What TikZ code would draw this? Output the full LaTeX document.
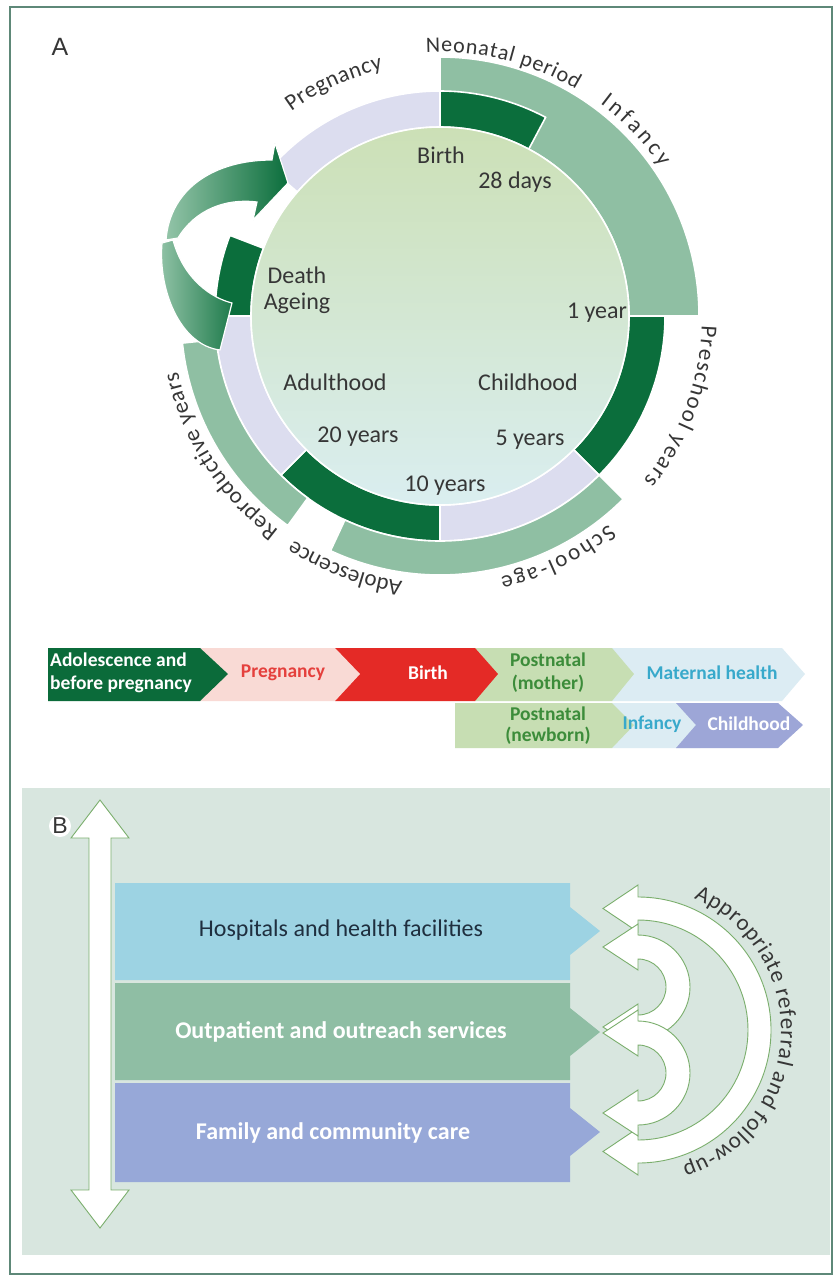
\documentclass[tikz,border=0pt]{standalone}
\usepackage{fontspec}
\setmainfont{Carlito}
\newfontfamily\labsans{Liberation Sans}
\usetikzlibrary{calc,decorations.text}
\definecolor{dkgreen}{HTML}{0B6E3C}
\definecolor{mdgreen}{HTML}{8FBFA3}
\definecolor{lav}{HTML}{DCDDEF}
\definecolor{circtop}{HTML}{CCE0B6}
\definecolor{circbot}{HTML}{DAEEF0}
\definecolor{txt}{HTML}{363636}
\definecolor{arrlight}{HTML}{93C4A8}
\definecolor{framecol}{HTML}{5E8878}
\definecolor{chdark}{HTML}{0B6B3A}
\definecolor{chpink}{HTML}{F9DAD5}
\definecolor{chpinktxt}{HTML}{E5403D}
\definecolor{chred}{HTML}{E42A26}
\definecolor{chlgreen}{HTML}{C7DEB3}
\definecolor{chgreentxt}{HTML}{3C8C3A}
\definecolor{chlblue}{HTML}{DCECF3}
\definecolor{chbluetxt}{HTML}{38A9CB}
\definecolor{chpurple}{HTML}{9DA6D7}
\definecolor{panelbg}{HTML}{D8E6DF}
\definecolor{barblue}{HTML}{9DD3E3}
\definecolor{bargreen}{HTML}{8FBEA4}
\definecolor{barpurple}{HTML}{97A8D8}
\definecolor{barline}{HTML}{7AAE6C}
\definecolor{hosptxt}{HTML}{1F2F3F}

\newcommand\ringseg[5]{\filldraw[fill=#1,draw=white,line width=1.6pt] ($(O)+(#2:#4pt)$) arc[start angle=#2,end angle=#3,radius=#4pt] -- ($(O)+(#3:#5pt)$) arc[start angle=#3,end angle=#2,radius=#5pt] -- cycle;}
\newcommand\arclabel[6]{\path[decorate,decoration={text along path,text align={fit to path},text={|\fontsize{#6}{#6}\selectfont\color{txt}|#5}}] ($(#1)+(#3:#2pt)$) arc[start angle=#3,end angle=#4,radius=#2pt];}

\begin{document}
\begin{tikzpicture}[x=1pt,y=1pt,
  inlbl/.style={font=\fontsize{24}{26}\selectfont, text=txt, inner sep=0pt},
  chtxt/.style={font=\fontsize{19.5}{23}\selectfont\bfseries, inner sep=0pt, align=center},
  bartxt/.style={font=\fontsize{24}{26}\selectfont, inner sep=0pt},
  refarrow/.style={fill=white, draw=barline, line width=0.9pt, line join=miter}]
\useasboundingbox (0,0) rectangle (838,-1278);
\fill[white] (0,0) rectangle (838,-1278);
\draw[framecol, line width=1.2pt] (10,-7) rectangle (832,-1274);

% ---------------- Panel A ----------------
\node[font=\labsans\fontsize{25}{25}\selectfont, text=txt, inner sep=0pt] (labA) at (60,-47) {A};
\coordinate (O) at (440,-316);

\ringseg{mdgreen}{0}{90}{189}{259}
\ringseg{dkgreen}{62}{90}{189}{225}
\ringseg{dkgreen}{-45}{0}{189}{225}
\ringseg{lav}{-90}{-45}{189}{225}
\ringseg{dkgreen}{-135}{-90}{189}{225}
\ringseg{lav}{180}{225}{189}{225}
\ringseg{dkgreen}{159}{180}{189}{225}
\ringseg{lav}{90}{139}{189}{225}
\ringseg{mdgreen}{-115}{-45}{225}{259}
\ringseg{mdgreen}{186}{234}{225}{259}

\shade[top color=circtop, bottom color=circbot] (O) circle[radius=189pt];
\draw[white, line width=1.6pt] (O) circle[radius=189pt];

% cycle arrow
\shadedraw[left color=arrlight, right color=dkgreen!85!arrlight, draw=white, line width=1.2pt]
  (232,-303) .. controls (212,-298) and (184,-280) .. (173,-240)
  -- (162,-243) .. controls (158,-290) and (180,-345) .. (220,-350) -- cycle;
\shadedraw[left color=arrlight, right color=dkgreen, draw=white, line width=1.2pt]
  (166,-240) .. controls (170,-188) and (215,-160) .. (272,-160)
  -- (275,-143) -- (288,-183) -- (253,-220) -- (257,-202)
  .. controls (225,-198) and (195,-210) .. (178,-238) -- cycle;

% curved outer labels
\arclabel{O}{253}{126}{103}{Pregnancy}{23}
\arclabel{O}{264}{93}{59}{Neonatal period}{22}
\arclabel{O}{266}{53}{34}{Infancy}{23}
\arclabel{O}{262}{-2}{-39}{Preschool years}{23}
\arclabel{O}{268}{-51}{-77}{School-age}{23}
\arclabel{O}{268}{-98}{-122}{Adolescence}{23}
\arclabel{O}{268}{233}{192}{Reproductive years}{23}

% inner labels
\node[inlbl] (birth) at (441,-155) {Birth};
\node[inlbl] (days) at (515,-182) {28 days};
\node[inlbl] (death) at (297,-275) {Death};
\node[inlbl] (ageing) at (297,-303) {Ageing};
\node[inlbl] (oneyr) at (597,-313) {1 year};
\node[inlbl] (adult) at (335,-382) {Adulthood};
\node[inlbl] (child) at (528,-382) {Childhood};
\node[inlbl] (twenty) at (358,-437) {20 years};
\node[inlbl] (five) at (530,-440) {5 years};
\node[inlbl] (ten) at (445,-486) {10 years};

% ---------------- Chevron row ----------------
\fill[chlblue] (612,-648) -- (782,-648) -- (805,-674) -- (782,-701) -- (612,-701) -- cycle;
\fill[chlgreen] (475,-648) -- (612,-648) -- (634,-674) -- (612,-701) -- (475,-701) -- cycle;
\fill[chred] (335,-648) -- (475,-648) -- (498,-674) -- (475,-701) -- (335,-701) -- cycle;
\fill[chpink] (200,-648) -- (335,-648) -- (360,-674) -- (335,-701) -- (200,-701) -- cycle;
\fill[chdark] (48,-648) -- (200,-648) -- (228,-674) -- (200,-701) -- (48,-701) -- cycle;

\fill[chlblue] (612,-703) -- (700,-703) -- (720,-725) -- (700,-748) -- (612,-748) -- cycle;
\fill[chlgreen] (455,-703) -- (612,-703) -- (634,-725) -- (612,-748) -- (455,-748) -- cycle;
\fill[chpurple] (676,-703) -- (778,-703) -- (803,-725) -- (778,-748) -- (676,-748) -- (696,-725) -- cycle;

\node[chtxt, text=white, anchor=west, align=left] (c1) at (50,-673) {Adolescence and\\before pregnancy};
\node[chtxt, text=chpinktxt] (c2) at (283,-673) {Pregnancy};
\node[chtxt, text=white] (c3) at (428,-673) {Birth};
\node[chtxt, text=chgreentxt] (c4) at (548,-673) {Postnatal\\(mother)};
\node[chtxt, text=chbluetxt] (c5) at (712,-673) {Maternal health};
\node[chtxt, text=chgreentxt, font=\fontsize{19.5}{21}\selectfont\bfseries] (c6) at (548,-726) {Postnatal\\(newborn)};
\node[chtxt, text=chbluetxt] (c7) at (652,-724) {Infancy};
\node[chtxt, text=white] (c8) at (749,-724) {Childhood};

% ---------------- Panel B ----------------
\fill[panelbg] (22,-788) rectangle (830,-1255);

\filldraw[fill=white, draw=barline, line width=0.9pt]
  (100,-800) -- (129,-838) -- (111,-838) -- (111,-1190) -- (129,-1190) -- (100,-1228)
  -- (71,-1190) -- (89,-1190) -- (89,-838) -- (71,-838) -- cycle;
\node[circle, fill=white, inner sep=0pt, minimum size=22pt, font=\labsans\fontsize{23}{23}\selectfont, text=txt] (labB) at (60,-826) {B};

\fill[barblue] (115,-883) -- (570,-883) -- (570,-907) -- (600,-931) -- (570,-955) -- (570,-980) -- (115,-980) -- cycle;
\fill[bargreen] (115,-983) -- (570,-983) -- (570,-1008) -- (600,-1032) -- (570,-1056) -- (570,-1080) -- (115,-1080) -- cycle;
\fill[barpurple] (115,-1083) -- (570,-1083) -- (570,-1108) -- (600,-1132) -- (570,-1156) -- (570,-1182) -- (115,-1182) -- cycle;

\node[bartxt, text=hosptxt] (hosp) at (341,-930) {Hospitals and health facilities};
\node[bartxt, text=white, font=\fontsize{24}{26}\selectfont\bfseries] (outp) at (341,-1032) {Outpatient and outreach services};
\node[bartxt, text=white, font=\fontsize{24}{26}\selectfont\bfseries] (fam) at (333,-1133) {Family and community care};

% referral arrows
\coordinate (R) at (638,-1030);
\filldraw[refarrow] (638,-897) arc[start angle=90,end angle=-90,radius=133pt]
  -- (638,-1175) -- (603,-1151.5) -- (638,-1128) -- (638,-1140)
  arc[start angle=-90,end angle=90,radius=110pt]
  -- (638,-932) -- (603,-908.5) -- (638,-885) -- cycle;
\filldraw[refarrow] (638,-935) arc[start angle=90,end angle=-90,radius=52pt]
  -- (638,-1050) -- (603,-1027) -- (638,-1004) -- (638,-1015)
  arc[start angle=-90,end angle=90,radius=28pt]
  -- (638,-970) -- (603,-947) -- (638,-924) -- cycle;
\filldraw[refarrow] (638,-1021) arc[start angle=90,end angle=-90,radius=52pt]
  -- (638,-1136) -- (603,-1113) -- (638,-1090) -- (638,-1101)
  arc[start angle=-90,end angle=90,radius=28pt]
  -- (638,-1056) -- (603,-1033) -- (638,-1010) -- cycle;

\arclabel{R}{143}{67}{-72}{Appropriate referral and follow-up}{23}
\end{tikzpicture}
\end{document}
